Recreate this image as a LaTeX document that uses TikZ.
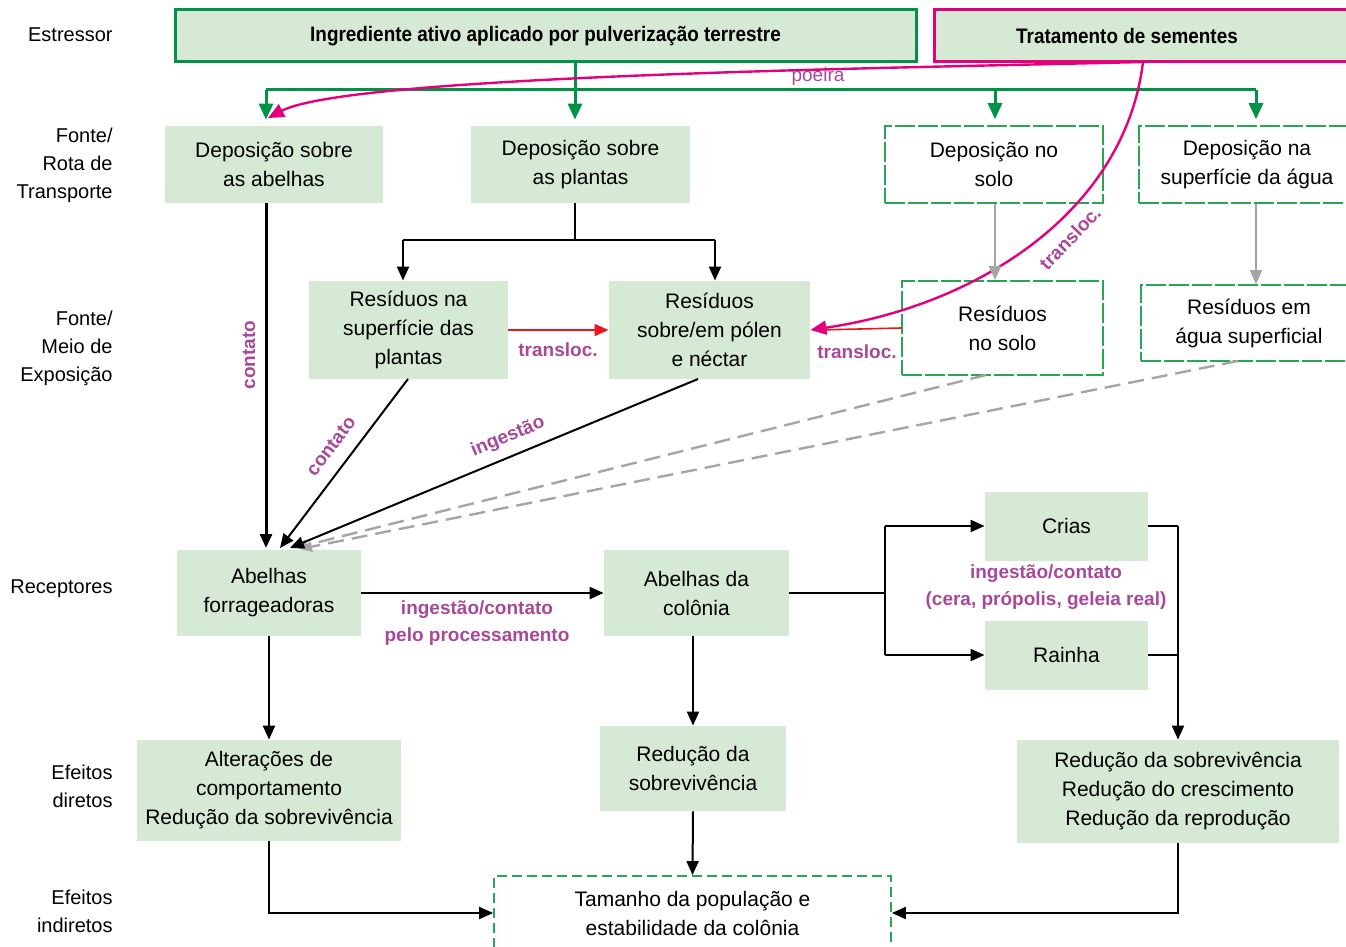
\documentclass[tikz,border=0pt]{standalone}
\usepackage{fontspec}
\setmainfont{Liberation Sans}
\newfontfamily\condfont{Liberation Sans}[FakeStretch=0.9]
\usetikzlibrary{arrows.meta}
\definecolor{boxfill}{RGB}{214,233,213}
\definecolor{dgreen}{RGB}{0,146,69}
\definecolor{lgreen}{RGB}{40,165,85}
\definecolor{mag}{RGB}{228,0,124}
\definecolor{lab}{RGB}{168,72,152}
\definecolor{gr}{RGB}{165,165,165}
\definecolor{rd}{RGB}{232,20,30}
\begin{document}
\begin{tikzpicture}[x=0.5pt,y=-0.5pt,
  wd/.style={minimum width=#1*0.5pt},
  ht/.style={minimum height=#1*0.5pt},
  boxtext/.style={font=\fontsize{10.5}{14.5}\selectfont, align=center, inner sep=0pt},
  fbox/.style={boxtext, fill=boxfill},
  dbox/.style={boxtext, draw=lgreen, line width=0.8pt, dash pattern=on 10pt off 1.5pt, fill=white},
  sidelab/.style={font=\fontsize{10}{14}\selectfont, align=right, anchor=east, inner sep=0pt},
  edgelab/.style={font=\fontsize{9.5}{13.5}\selectfont\bfseries, text=lab, align=center, inner sep=0pt},
  blk/.style={draw=black, line width=1pt},
  blkarr/.style={blk, -{Triangle[length=7pt,width=6pt]}},
  grnarr/.style={draw=dgreen, line width=1.5pt, -{Triangle[length=8pt,width=7pt]}},
  grn/.style={draw=dgreen, line width=1.5pt},
  grayarr/.style={draw=gr, line width=1pt, -{Triangle[length=7pt,width=6pt]}},
  graydash/.style={draw=gr, line width=1.2pt, dash pattern=on 8pt off 4pt, -{Triangle[length=6pt,width=5pt]}},
  magarr/.style={draw=mag, line width=1.2pt, -{Triangle[length=8pt,width=7pt]}},
  redarr/.style={draw=rd, line width=0.8pt, -{Triangle[length=7pt,width=6pt]}},
]
\useasboundingbox (0,0) rectangle (1346,947);
\clip (0,0) rectangle (1346,947);

% side labels
\node[sidelab] (s1) at (113,35) {Estressor};
\node[sidelab] (s2) at (113,165) {Fonte/\\Rota de\\Transporte};
\node[sidelab] (s3) at (113,348) {Fonte/\\Meio de\\Exposição};
\node[sidelab] (s4) at (113,589) {Receptores};
\node[sidelab] (s5) at (113,786) {Efeitos\\diretos};
\node[sidelab] (s6) at (113,911) {Efeitos\\indiretos};

% stressors
\node[fbox, draw=dgreen, line width=1.5pt, wd=741, ht=52, font=\condfont\fontsize{10.5}{14.5}\selectfont\bfseries] (ing) at (545.5,36) {Ingrediente ativo aplicado por pulverização terrestre};
\node[fill=boxfill, draw=mag, line width=1.5pt, wd=440, ht=52, inner sep=0pt, anchor=west] (tratbox) at (933,36) {};
\node[boxtext, font=\condfont\fontsize{10.5}{14.5}\selectfont\bfseries] (trat) at (1127,36) {Tratamento de sementes};

% transport
\node[fbox, wd=218, ht=77] (dab) at (274,164.5) {Deposição sobre\\as abelhas};
\node[fbox, wd=219, ht=77] (dpl) at (580.5,164.5) {Deposição sobre\\as plantas};
\node[dbox, wd=218, ht=77] (dso) at (994,164.5) {Deposição no\\solo};
\node[dbox, wd=216, ht=77] (dag) at (1247,164.5) {Deposição na\\superfície da água};

% exposure
\node[fbox, wd=199, ht=98] (rpl) at (408.5,330) {Resíduos na\\superfície das\\plantas};
\node[fbox, wd=201, ht=98] (rpn) at (709.5,330) {Resíduos\\sobre/em pólen\\e néctar};
\node[dbox, wd=201, ht=94] (rso) at (1002.5,328) {Resíduos\\no solo};
\node[dbox, wd=216, ht=76] (rag) at (1249,323) {Resíduos em\\água superficial};

% receptors
\node[fbox, wd=184, ht=86] (abf) at (269,593) {Abelhas\\forrageadoras};
\node[fbox, wd=185, ht=86] (abc) at (696.5,593) {Abelhas da\\colônia};
\node[fbox, wd=163, ht=69] (crias) at (1066.5,526) {Crias};
\node[fbox, wd=163, ht=69] (rainha) at (1066.5,655) {Rainha};

% effects
\node[fbox, wd=264, ht=101] (alt) at (269,790.5) {Alterações de\\comportamento\\Redução da sobrevivência};
\node[fbox, wd=186, ht=85] (red) at (693,768.5) {Redução da\\sobrevivência};
\node[fbox, wd=322, ht=103] (redr) at (1178,791.5) {Redução da sobrevivência\\Redução do crescimento\\Redução da reprodução};
\node[boxtext, draw=lgreen, line width=0.9pt, dash pattern=on 5pt off 2.5pt, wd=397, ht=74] (tam) at (692.5,913) {Tamanho da população e\\estabilidade da colônia};

% helper coordinates
\coordinate (gs) at (575,90);
\coordinate (gL) at (266,90);
\coordinate (gM) at (995,90);
\coordinate (gR) at (1256,90);
\coordinate (ts) at (1143,62);
\coordinate (xA) at (266,0);
\coordinate (bs) at (575,240);
\coordinate (bL) at (403,240);
\coordinate (bR) at (715,240);
\coordinate (tA) at (266,548);
\coordinate (tB) at (280,548);
\coordinate (tC) at (290,548);
\coordinate (tD) at (295,548);
\coordinate (tE) at (300,549);
\coordinate (sB) at (408,379);
\coordinate (sC) at (698,379);
\coordinate (sD) at (986,375);
\coordinate (sE) at (1238,361);
\coordinate (vX) at (885,0);
\coordinate (wX) at (1178,0);
\coordinate (vJ) at (abc.east -| vX);
\coordinate (vT) at (crias.west -| vX);
\coordinate (vB) at (rainha.west -| vX);
\coordinate (wT) at (crias.east -| wX);
\coordinate (wB) at (rainha.east -| wX);
\coordinate (eL) at (alt.south |- tam.west);
\coordinate (eR) at (redr.south |- tam.east);

% green distribution
\draw[grn] (ing.south -| gs) -- (gs);
\draw[grn] (gL) -- (gR);
\draw[grnarr, shorten >=3pt] (gL) -- (gL |- dab.north);
\draw[grnarr, shorten >=3pt] (gs) -- (gs |- dpl.north);
\draw[grnarr, shorten >=3pt] (gM) -- (gM |- dso.north);
\draw[grnarr, shorten >=3pt] (gR) -- (gR |- dag.north);

% magenta seed treatment curves
\draw[magarr] (ts) .. controls (900,68) and (350,75) .. (268,118);
\node[edgelab, font=\fontsize{9.5}{13.5}\selectfont] (lpo) at (818,77) {poeira};
\draw[draw=rd, line width=0.8pt] (rso.west) -- ([xshift=4pt]rpn.east);
\draw[magarr] (ts) .. controls (1125,210) and (980,305) .. (rpn.east);
\node[edgelab, rotate=46] (ltr3) at (1070,238) {transloc.};

% plant split
\draw[blk] (dpl.south -| bs) -- (bs);
\draw[blk] (bL) -- (bR);
\draw[blkarr] (bL) -- (bL |- rpl.north);
\draw[blkarr] (bR) -- (bR |- rpn.north);

% translocation
\draw[redarr] (rpl.east) -- (rpn.west);
\node[edgelab] (ltr1) at (558,350) {transloc.};
\node[edgelab] (ltr2) at (857,352) {transloc.};

% gray soil/water
\draw[grayarr] (dso.south -| gM) -- (gM |- rso.north);
\draw[grayarr] (dag.south -| gR) -- (gR |- rag.north);

% exposure to foragers
\draw[graydash] (sD) -- (tD);
\draw[graydash] (sE) -- (tE);
\draw[blk, line width=1.5pt, -{Triangle[length=7pt,width=6pt]}] (dab.south -| xA) -- (tA);
\node[edgelab, rotate=90] (lc1) at (249,355) {contato};
\draw[blkarr] (sB) -- (tB);
\node[edgelab, rotate=53] (lc2) at (331,446) {contato};
\draw[blkarr] (sC) -- (tC);
\node[edgelab, rotate=22.5] (lig) at (508,437) {ingestão};

% receptors
\draw[blkarr] (abf.east) -- (abc.west);
\node[edgelab] (lpp) at (477,623) {ingestão/contato\\pelo processamento};
\draw[blk] (abc.east) -- (vJ);
\draw[blk] (vT) -- (vB);
\draw[blkarr] (vT) -- (crias.west);
\draw[blkarr] (vB) -- (rainha.west);
\node[edgelab] (lcr) at (1046,587) {ingestão/contato\\(cera, própolis, geleia real)};
\draw[blk] (crias.east) -- (wT);
\draw[blk] (rainha.east) -- (wB);
\draw[blkarr] (wT) -- (wT |- redr.north);

% effects
\draw[blkarr] (abf.south) -- (abf.south |- alt.north);
\draw[blkarr] (abc.south -| red.north) -- (red.north);
\draw[blkarr] (red.south) -- (tam.north);
\draw[blkarr] (alt.south) -- (eL) -- (tam.west);
\draw[blkarr] (redr.south) -- (eR) -- (tam.east);
\end{tikzpicture}
\end{document}
